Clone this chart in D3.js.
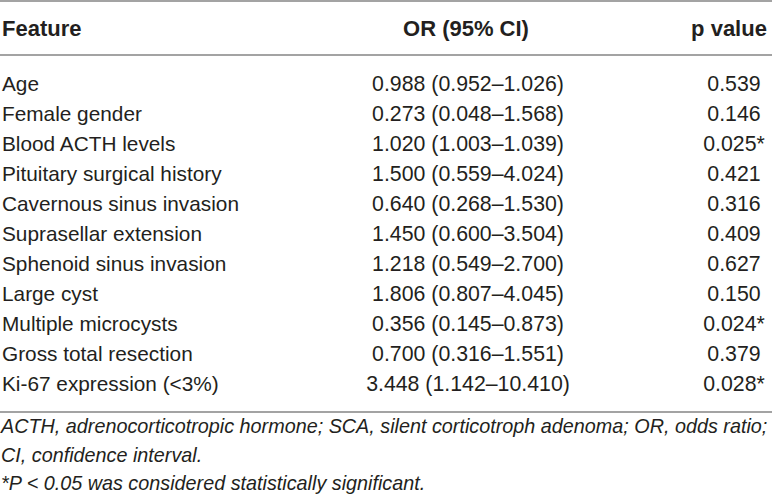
<!DOCTYPE html>
<html>
<head>
<meta charset="utf-8">
<script src="https://cdn.jsdelivr.net/npm/d3@7"></script>
<style>
  body { margin: 0; background: #fff; }
  text { font-family: "Liberation Sans", Arial, sans-serif; fill: #231f20; }
</style>
</head>
<body>
<div class="chart"></div>
<script>
const headers = ["Feature", "OR (95% CI)", "p value"];
const features = [
  "Age", "Female gender", "Blood ACTH levels", "Pituitary surgical history",
  "Cavernous sinus invasion", "Suprasellar extension", "Sphenoid sinus invasion",
  "Large cyst", "Multiple microcysts", "Gross total resection", "Ki-67 expression (<3%)"
];
const oddsRatios = [
  "0.988 (0.952–1.026)", "0.273 (0.048–1.568)", "1.020 (1.003–1.039)", "1.500 (0.559–4.024)",
  "0.640 (0.268–1.530)", "1.450 (0.600–3.504)", "1.218 (0.549–2.700)", "1.806 (0.807–4.045)",
  "0.356 (0.145–0.873)", "0.700 (0.316–1.551)", "3.448 (1.142–10.410)"
];
const pValues = [
  "0.539", "0.146", "0.025*", "0.421", "0.316", "0.409",
  "0.627", "0.150", "0.024*", "0.379", "0.028*"
];
const footnotes = [
  "ACTH, adrenocorticotropic hormone; SCA, silent corticotroph adenoma; OR, odds ratio;",
  "CI, confidence interval.",
  "*P < 0.05 was considered statistically significant."
];

const width = 772;
const height = 500;

const svg = d3.select(".chart")
  .append("svg")
    .attr("width", width)
    .attr("height", height);

// row baselines
const yRow = d3.scalePoint()
  .domain(d3.range(features.length))
  .range([91, 391]);

const rules = [1, 55, 412];
svg.selectAll(".rule")
  .data(rules)
  .enter().append("line")
    .attr("class", "rule")
    .attr("x1", 0)
    .attr("x2", width)
    .attr("y1", d => d)
    .attr("y2", d => d)
    .style("stroke", "#a3a3a3")
    .style("stroke-width", "2px");

//header
const headerX = [2, 466, 729];
const headerAnchor = ["start", "middle", "middle"];
svg.selectAll(".header")
  .data(headers)
  .enter().append("text")
    .attr("class", "header")
    .attr("x", (d, i) => headerX[i])
    .attr("y", 36)
    .attr("text-anchor", (d, i) => headerAnchor[i])
    .style("font-size", "22px")
    .style("font-weight", "700")
    .text(d => d);

//body rows
const rows = svg.selectAll(".row")
  .data(features)
  .enter().append("g")
    .attr("class", "row")
    .attr("transform", (d, i) => `translate(0,${yRow(i)})`);

rows.append("text")
  .attr("x", 2)
  .style("font-size", "20.8px")
  .text(d => d);

rows.append("text")
  .attr("x", 468)
  .attr("text-anchor", "middle")
  .style("font-size", "21.3px")
  .text((d, i) => oddsRatios[i]);

rows.append("text")
  .attr("x", 734)
  .attr("text-anchor", "middle")
  .style("font-size", "21.3px")
  .text((d, i) => pValues[i]);

//footnotes
svg.selectAll(".foot")
  .data(footnotes)
  .enter().append("text")
    .attr("class", "foot")
    .attr("x", 1)
    .attr("y", (d, i) => 433 + i * 28.5)
    .style("font-size", "19.8px")
    .style("font-style", "italic")
    .text(d => d);
</script>
</body>
</html>
